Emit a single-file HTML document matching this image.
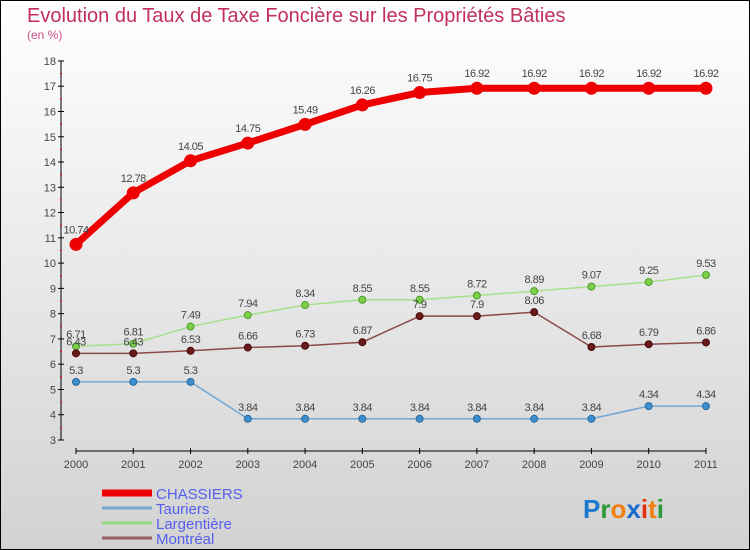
<!DOCTYPE html>
<html><head><meta charset="utf-8"><style>
body{margin:0}
#wrap{position:relative;width:748px;height:548px;border:1px solid #000;background:linear-gradient(#ffffff,#d2d2d2);font-family:"Liberation Sans",sans-serif;overflow:hidden}
.t{position:absolute;color:#c0305a}
</style></head><body>
<div id="wrap">
<div class="t" style="left:26px;top:4px;font-size:20px">Evolution du Taux de Taxe Foncière sur les Propriétés Bâties</div>
<div class="t" style="left:26px;top:27px;font-size:12px;color:#d0508a">(en %)</div>
<svg id="c" width="748" height="548" style="position:absolute;left:0;top:0" font-family="Liberation Sans, sans-serif"></svg>
</div>
<script>
const years=[2000,2001,2002,2003,2004,2005,2006,2007,2008,2009,2010,2011];
const chassiers=[10.74,12.78,14.05,14.75,15.49,16.26,16.75,16.92,16.92,16.92,16.92,16.92];
const tauriers=[5.3,5.3,5.3,3.84,3.84,3.84,3.84,3.84,3.84,3.84,4.34,4.34];
const largentiere=[6.71,6.81,7.49,7.94,8.34,8.55,8.55,8.72,8.89,9.07,9.25,9.53];
const montreal=[6.43,6.43,6.53,6.66,6.73,6.87,7.9,7.9,8.06,6.68,6.79,6.86];
const yTicks=[3,4,5,6,7,8,9,10,11,12,13,14,15,16,17,18];
const NS='http://www.w3.org/2000/svg';
const svg=document.getElementById('c');
const x=i=>75+i*57.27;
const y=v=>439-(v-3)*25.27;
function el(t,a,p){const e=document.createElementNS(NS,t);for(const k in a)e.setAttribute(k,a[k]);(p||svg).appendChild(e);return e;}
const ax=el('g',{});


el('line',{x1:60,y1:y(18),x2:60,y2:y(3),stroke:'#000'},ax);
yTicks.forEach(v=>{
 el('line',{x1:57,x2:63,y1:y(v),y2:y(v),stroke:'#000'},ax);
 if(v<18)el('line',{x1:59,x2:61,y1:y(v+0.5),y2:y(v+0.5),stroke:'#e00'},ax);
 const t=el('text',{x:55,y:y(v)+4,'text-anchor':'end','font-size':11,fill:'#444'},ax);t.textContent=v;
 
 
});
el('line',{x1:75,y1:450,x2:705,y2:450,stroke:'#000'},ax);
years.forEach((yr,i)=>{
 el('line',{x1:x(i),x2:x(i),y1:447,y2:453,stroke:'#000'},ax);
 const t=el('text',{x:x(i),y:467,'text-anchor':'middle','font-size':11,fill:'#444'},ax);t.textContent=yr;
 
 
});
function series(name,data,color,w,r,dot,dotStroke){
 const g=el('g',{});
 
 
 el('polyline',{points:data.map((v,i)=>x(i)+','+y(v)).join(' '),fill:'none',stroke:color,'stroke-width':w,'stroke-linejoin':'round'},g);
 data.forEach((v,i)=>{
  const c=el('circle',{cx:x(i),cy:y(v),r:r,fill:dot,stroke:dotStroke,'stroke-width':1},g);
  
  
  const t=el('text',{x:x(i),y:y(v)-(w>4?11:8),'text-anchor':'middle','font-size':11,fill:'#444','letter-spacing':'-0.5'},g);t.textContent=v;
  
  
 });
}
series('tauriers',tauriers,'#6fa8d6',1.5,3.5,'#3b8fd0','#2a6a9a');
series('largentiere',largentiere,'#a6e08a',1.5,3.5,'#7ed04a','#4a9a2a');
series('montreal',montreal,'#8a4a4a',1.5,3.5,'#6a1a1a','#4a0a0a');
series('chassiers',chassiers,'#ee0000',7,6,'#ee0000','#ee0000');
const leg=[['CHASSIERS','#ee0000',7,16],['Tauriers','#7aa8cc',3,12],['Largentière','#98d880',3,12],['Montréal','#9a6060',3,12]];
leg.forEach((l,i)=>{
 const g=el('g',{});
 
 
 const yy=492+i*15;
 el('line',{x1:101,x2:151,y1:yy,y2:yy,stroke:l[1],'stroke-width':l[2]},g);
 const t=el('text',{x:155,y:yy+6,'font-size':15,fill:'#5560ee'},g);t.textContent=l[0];
});
const lg=el('text',{x:582,y:517,'font-size':26,'font-weight':'bold'});


[['P','#1a7ad0'],['r','#2a9a3a'],['o','#f08010'],['x','#1a6ad0'],['i','#e03010'],['t','#f08010'],['i','#2a9a3a']].forEach(p=>{const s=el('tspan',{fill:p[1]},lg);s.textContent=p[0];});
</script>
</body></html>
